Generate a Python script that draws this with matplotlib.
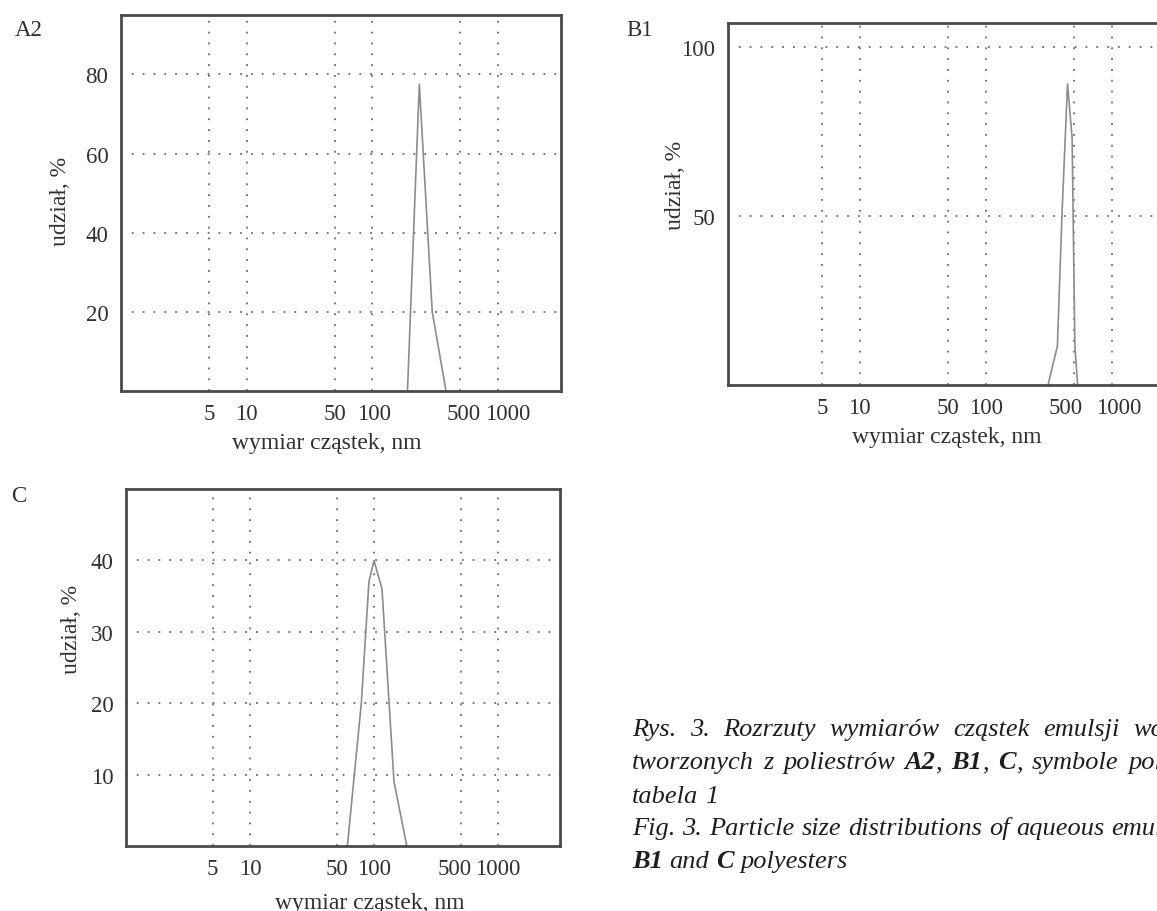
import numpy as np
import matplotlib.pyplot as plt
from matplotlib.transforms import ScaledTranslation

# =========================
# data
# =========================
size_a2 = [190, 236, 299, 385]
udz_a2 = [0, 77.5, 20, 0]

size_b1 = [311, 369, 401, 444, 483, 492, 508, 534]
udz_b1 = [0, 11.5, 50, 89, 73, 50, 11.5, 0]

size_c = [61, 79, 91, 100, 116, 145, 184]
udz_c = [0, 20, 37, 40, 36, 9, 0]

x_ticks = [5, 10, 50, 100, 500, 1000]
x_labels = ["5", "10", "50", "100", "500", "1000"]

y_ticks_a2 = [20, 40, 60, 80]
y_ticks_b1 = [50, 100]
y_ticks_c = [10, 20, 30, 40]

SERIF = ["Liberation Serif", "DejaVu Serif"]
TXT = "#303030"
LINE = "#8c8c8c"
GRID = "#6a6a6a"

plt.rcParams["font.family"] = SERIF

fig = plt.figure(figsize=(11.57, 9.12), dpi=100)
W, H = 1157, 912


def panel(rect_px, xlim, ylim, yticks, xs, ys, name, name_xy,
          ylab_xy, xlab_xy, label_shift):
    l, t, r, b = rect_px
    ax = fig.add_axes([l / W, 1 - b / H, (r - l) / W, (b - t) / H])
    ax.plot(xs, ys, color=LINE, lw=1.2)
    ax.set_xscale("log")
    ax.set_xlim(*xlim)
    ax.set_ylim(*ylim)
    ax.set_xticks(x_ticks)
    ax.set_xticklabels(x_labels)
    ax.minorticks_off()
    ax.set_yticks(yticks)
    ax.tick_params(length=0, labelsize=16.5, labelcolor=TXT, pad=9)
    # the scanned labels sit a little off their grid lines
    for lab, dx in zip(ax.get_xticklabels(), label_shift):
        lab.set_transform(lab.get_transform() +
                          ScaledTranslation(dx / 100, 0, fig.dpi_scale_trans))
    ax.grid(True, linestyle=(0, (1, 5)), color=GRID, lw=1.3)
    for s in ax.spines.values():
        s.set_linewidth(2.0)
        s.set_color("#4a4a4a")
    ax.set_xlabel("wymiar cząstek, nm", fontsize=17, color=TXT)
    ax.xaxis.set_label_coords((xlab_xy[0] - l) / (r - l),
                              -(xlab_xy[1] - 10 - b) / (b - t))
    ax.set_ylabel("udział, %", fontsize=17, color=TXT)
    ax.yaxis.set_label_coords(-(l - ylab_xy[0]) / (r - l),
                              (b - ylab_xy[1]) / (b - t))
    fig.text(name_xy[0] / W, 1 - name_xy[1] / H, name, fontsize=16.5,
             color=TXT, ha="left", va="center")
    return ax


panel((121, 16, 561, 392), (1, 10 ** 3.5), (0, 95), y_ticks_a2,
      size_a2, udz_a2, "A2", (15, 31), (71, 201), (327, 443),
      [0, 0, 0, 2, 3, 10])
panel((728, 24, 1175, 386), (0.9, 10 ** 3.5), (0, 107), y_ticks_b1,
      size_b1, udz_b1, "B1", (626, 30), (686, 185), (947, 437),
      [0, 0, 0, 0, -8, 7])
panel((126, 490, 560, 847), (1, 10 ** 3.5), (0, 50), y_ticks_c,
      size_c, udz_c, "C", (11, 497), (82, 629), (370, 903),
      [0, 0, 0, 0, -6, 0])

# =========================
# caption: justified italic block, cut off by the page edge
# =========================
caption = [
    [("Rys.", "normal"), ("3.", "normal"), ("Rozrzuty", "normal"),
     ("wymiarów", "normal"), ("cząstek", "normal"), ("emulsji", "normal"),
     ("wo", "normal")],
    [("tworzonych", "normal"), ("z", "normal"), ("poliestrów", "normal"),
     ("A2", "bold"), (",", "normal", 0), ("B1", "bold"), (",", "normal", 0),
     ("C", "bold"), (",", "normal", 0), ("symbole", "normal"),
     ("pol", "normal")],
    [("tabela", "normal"), ("1", "normal")],
    [("Fig.", "normal"), ("3.", "normal"), ("Particle", "normal"),
     ("size", "normal"), ("distributions", "normal"), ("of", "normal"),
     ("aqueous", "normal"), ("emul", "normal")],
    [("B1", "bold"), ("and", "normal"), ("C", "bold"),
     ("polyesters", "normal")],
]
cap_base = [736, 769, 803, 835, 868]
cap_end = [1164, 1162, None, 1163, None]

renderer = fig.canvas.get_renderer()
CAP = dict(fontsize=19, style="italic", color="#1e1e1e",
           ha="left", va="baseline")
space = fig.text(0, 0, "a b", **CAP)
nospace = fig.text(0, 0, "ab", **CAP)
sp = (space.get_window_extent(renderer).width -
      nospace.get_window_extent(renderer).width)
space.remove()
nospace.remove()

for parts, yy, end in zip(caption, cap_base, cap_end):
    texts = []
    x = 632
    for p in parts:
        gap = sp if (len(p) == 2 and texts) else 0
        x += gap
        t = fig.text(x / W, 1 - yy / H, p[0], weight=p[1], **CAP)
        texts.append((t, gap))
        x = t.get_window_extent(renderer).x1
    if end is not None and end > x:
        # stretch word spacing as in the justified original
        n_gaps = sum(1 for _, g in texts if g > 0)
        extra = (end - x) / n_gaps
        shift = 0
        for t, g in texts:
            if g > 0:
                shift += extra
            px, py = t.get_position()
            t.set_position((px + shift / W, py))

fig.savefig("out.png", dpi=100)
